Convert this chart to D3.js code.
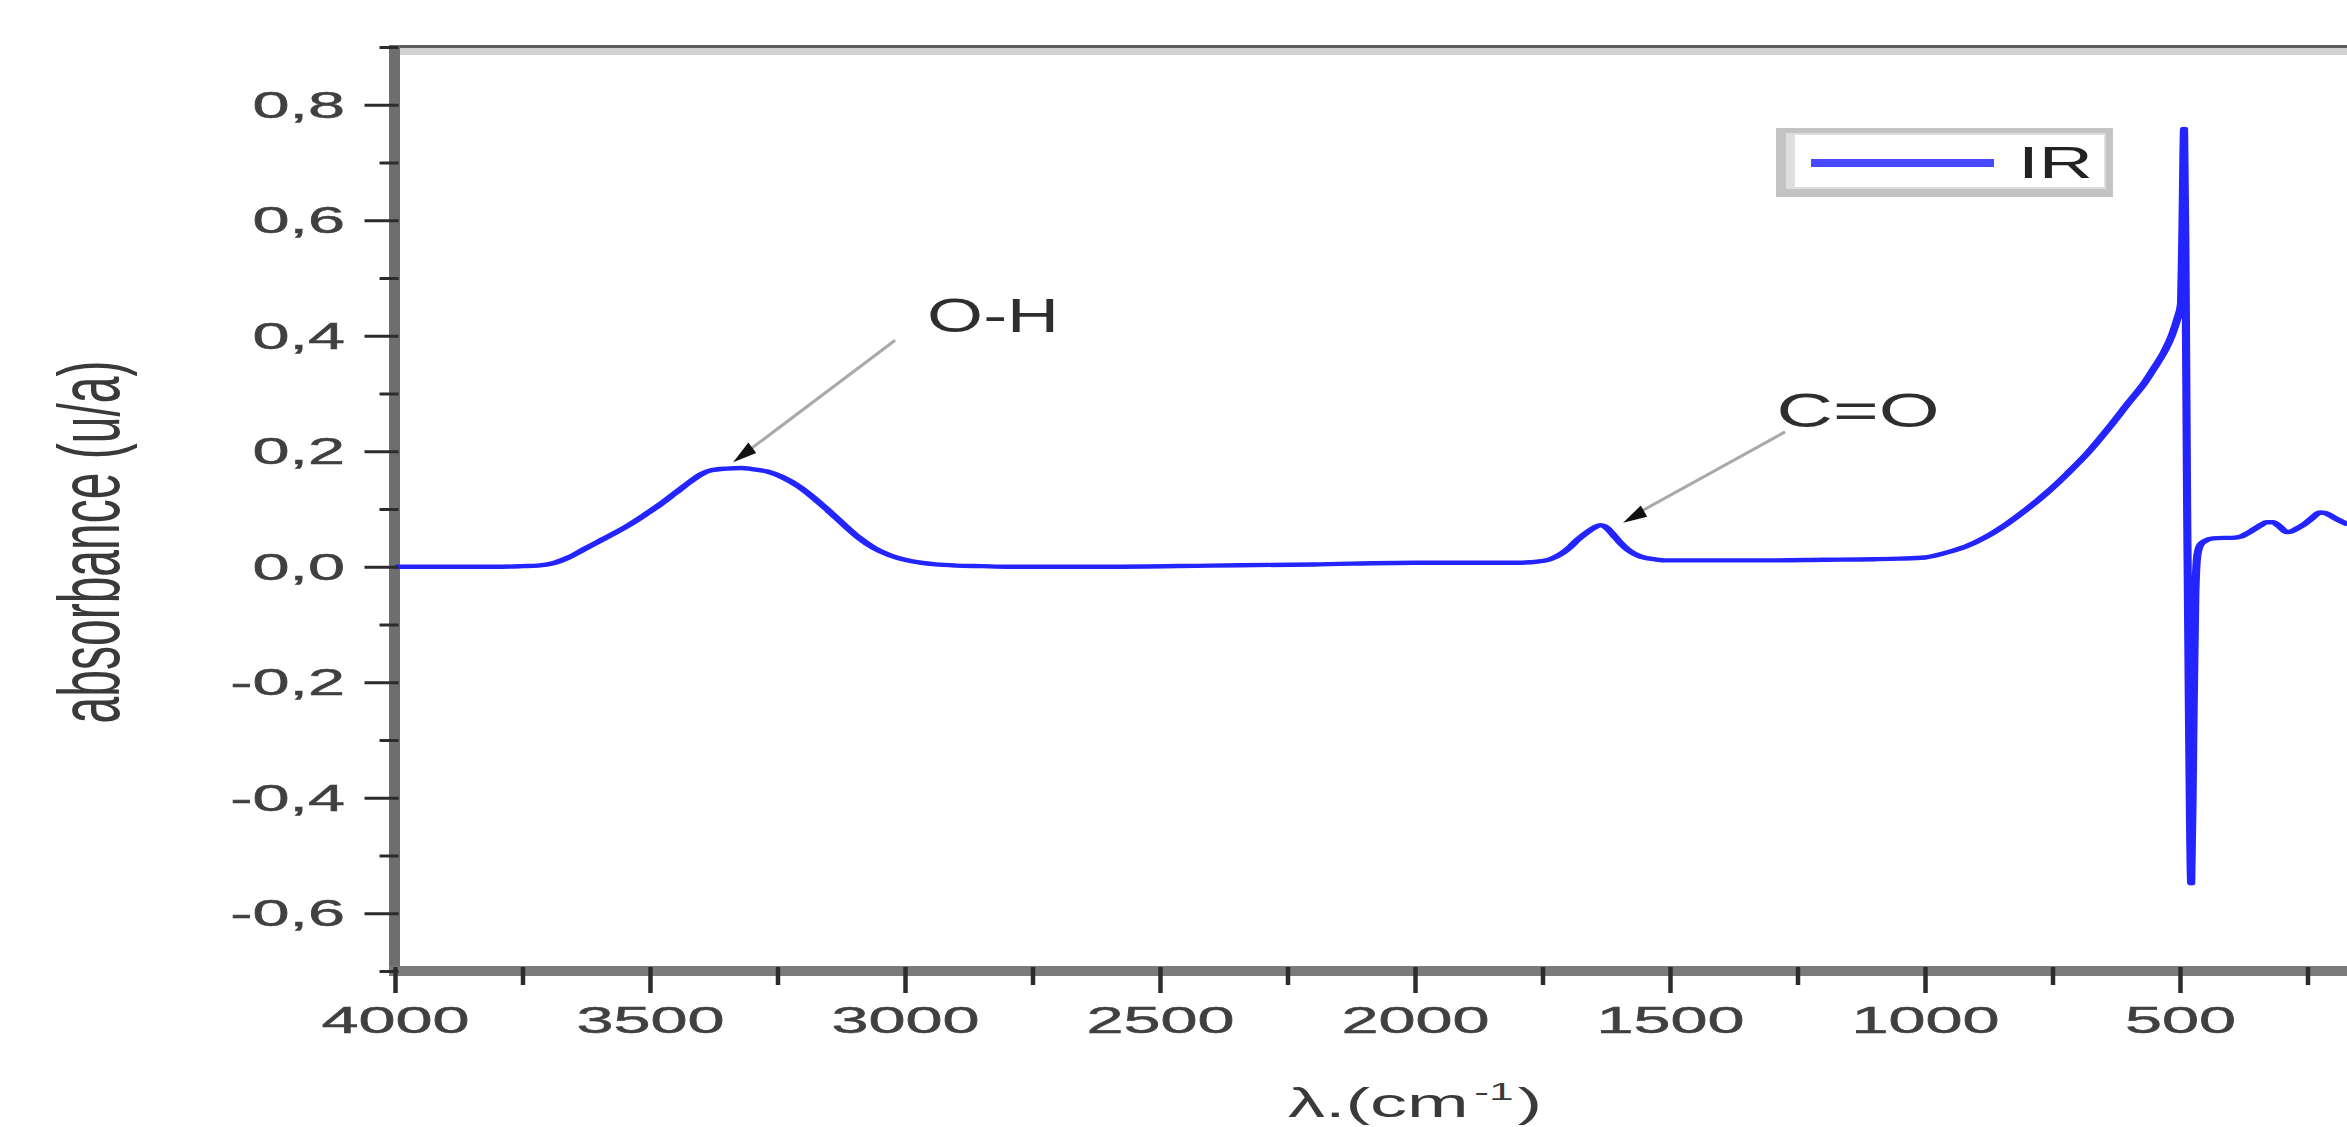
<!DOCTYPE html>
<html><head><meta charset="utf-8">
<script src="https://cdn.jsdelivr.net/npm/d3@7"></script>
<style>html,body{margin:0;padding:0;background:#fff;overflow:hidden}text{font-family:"Liberation Sans",Arial,sans-serif}</style>
</head><body><svg id="chart" width="2347" height="1127"></svg>
<script>
// ---- data ----
const wavenumbers = [4000,3900,3800,3750,3720,3690,3660,3630,3600,3570,3540,3510,3480,3450,3420,3400,3380,3350,3320,3300,3270,3240,3210,3180,3150,3120,3090,3060,3030,3000,2970,2940,2900,2850,2800,2600,2400,2200,2000,1900,1800,1760,1735,1712,1695,1682,1665,1650,1637,1628,1618,1608,1598,1582,1559,1530,1506,1400,1300,1200,1100,1050,1000,960,920,880,840,800,760,720,680,640,600,570,550,530,515,505,498,495,492,489,486,482,478,474,470,466,460,450,435,415,400,382,370,360,349,340,330,318,305,295,290,282,275,267,259,250,240,225,215,210,200,190,180,170];
const absorbance = [0.000,0.000,0.000,0.001,0.002,0.006,0.016,0.030,0.044,0.058,0.073,0.090,0.108,0.128,0.148,0.160,0.167,0.170,0.171,0.169,0.165,0.155,0.140,0.120,0.097,0.073,0.050,0.032,0.020,0.012,0.007,0.004,0.002,0.001,0.000,0.000,0.002,0.004,0.007,0.007,0.007,0.009,0.013,0.023,0.035,0.046,0.058,0.067,0.072,0.070,0.062,0.052,0.042,0.029,0.018,0.013,0.011,0.011,0.011,0.012,0.013,0.014,0.016,0.024,0.035,0.052,0.074,0.100,0.129,0.162,0.198,0.240,0.285,0.318,0.345,0.374,0.403,0.430,0.455,0.600,0.758,0.500,0.100,-0.300,-0.548,-0.300,-0.050,0.020,0.038,0.045,0.049,0.050,0.050,0.052,0.057,0.062,0.068,0.073,0.077,0.077,0.070,0.062,0.060,0.061,0.064,0.068,0.072,0.078,0.085,0.094,0.093,0.091,0.086,0.081,0.077,0.073];
const seriesName = "IR";
const xMajorTicks = [4000,3500,3000,2500,2000,1500,1000,500];
const xMinorTicks = [3750,3250,2750,2250,1750,1250,750,250];
const yMajorTicks = [-0.6,-0.4,-0.2,0.0,0.2,0.4,0.6,0.8];
const yMinorTicks = [-0.7,-0.5,-0.3,-0.1,0.1,0.3,0.5,0.7,0.9];
const xTitle = ["λ.(cm", "-1", ")"];
const yTitle = "absorbance (u/a)";
const annotationLabels = ["O-H", "C=O"];
const annotationTargets = [[3337, 0.181], [1592, 0.076]];

// ---- drawing ----
const W = 2347, H = 1127;
const K = 1.85; // horizontal stretch of the original picture
const svg = d3.select("#chart");
svg.append("rect").attr("width", W).attr("height", H).attr("fill", "#fff");

const x = d3.scaleLinear().domain([4000, 0]).range([395, 2435]);
const y = d3.scaleLinear().domain([-0.7, 0.9]).range([971, 47]);
const fmt = v => d3.format(".1f")(v).replace(".", ",").replace("\u2212", "-");

// frame
svg.append("rect").attr("x", 399).attr("y", 48).attr("width", W).attr("height", 7).attr("fill", "#d3d3d3");
svg.append("line").attr("x1", 389).attr("x2", W).attr("y1", 46.5).attr("y2", 46.5)
  .attr("stroke", "#5e5e5e").attr("stroke-width", 3);
svg.append("line").attr("x1", 394.5).attr("x2", 394.5).attr("y1", 45).attr("y2", 976)
  .attr("stroke", "#6e6e6e").attr("stroke-width", 11);
svg.append("line").attr("x1", 389).attr("x2", W).attr("y1", 971).attr("y2", 971)
  .attr("stroke", "#7b7b7b").attr("stroke-width", 10);

// data line (drawn in a horizontally stretched group)
const data = wavenumbers.map((w, i) => ({ w, a: absorbance[i] }));
const line = d3.line().x(d => x(d.w) / K).y(d => y(d.a)).curve(d3.curveMonotoneX);
svg.append("g").attr("transform", `scale(${K},1)`)
  .append("path").datum(data).attr("d", line)
  .attr("fill", "none").attr("stroke", "#2424ff").attr("stroke-width", 4.4)
  .attr("stroke-linejoin", "round");

// y axis
const gyMin = svg.append("g").attr("transform", "translate(394.5,0)")
  .call(d3.axisLeft(y).tickValues(yMinorTicks).tickSize(15).tickFormat(""));
const gyMaj = svg.append("g").attr("transform", "translate(394.5,0)")
  .call(d3.axisLeft(y).tickValues(yMajorTicks).tickSize(30).tickFormat(fmt));
[gyMin, gyMaj].forEach(g => {
  g.select(".domain").remove();
  g.selectAll(".tick line").attr("x1", 4).attr("stroke", "#2c2c2c").attr("stroke-width", 3);
});
gyMaj.selectAll(".tick text")
  .attr("x", -(394.5 - 345) / K).attr("dy", "0.35em")
  .attr("transform", `scale(${K},1)`)
  .attr("font-size", 36).attr("fill", "#404040").attr("stroke", "#404040").attr("stroke-width", 0.5)
  .attr("text-anchor", "end")
  .attr("font-family", "Liberation Sans, Arial, sans-serif");

// x axis
const gxMin = svg.append("g").attr("transform", "translate(0,971)")
  .call(d3.axisBottom(x).tickValues(xMinorTicks).tickSize(14).tickFormat(""));
const gxMaj = svg.append("g").attr("transform", "translate(0,971)")
  .call(d3.axisBottom(x).tickValues(xMajorTicks).tickSize(22).tickFormat(d3.format("d")));
[gxMin, gxMaj].forEach(g => {
  g.select(".domain").remove();
  g.selectAll(".tick line").attr("y1", -4).attr("stroke", "#2c2c2c").attr("stroke-width", 4.5);
});
gxMaj.selectAll(".tick text")
  .attr("y", 49).attr("dy", "0.35em")
  .attr("transform", `scale(${K},1)`)
  .attr("font-size", 36).attr("fill", "#404040").attr("stroke", "#404040").attr("stroke-width", 0.5)
  .attr("font-family", "Liberation Sans, Arial, sans-serif");

// axis titles
const xt = svg.append("text")
  .attr("transform", `translate(1415,1117) scale(${K},1)`)
  .attr("text-anchor", "middle").attr("font-size", 40).attr("fill", "#3a3a3a");
xt.append("tspan").text(xTitle[0]);
xt.append("tspan").attr("dx", 3).attr("dy", -17).attr("font-size", 24).text(xTitle[1]);
xt.append("tspan").attr("dx", 2).attr("dy", 17).attr("font-size", 40).text(xTitle[2]);

svg.append("text")
  .attr("transform", `translate(89,542) scale(1.8,1) rotate(-90)`)
  .attr("text-anchor", "middle").attr("dominant-baseline", "central")
  .attr("font-size", 48).attr("fill", "#3a3a3a").text(yTitle);

// annotations
const annOffsets = [
  { sx: 162, sy: -122, tx: 260, ty: -130, w: 132 },
  { sx: 162, sy: -91, tx: 235, ty: -96, w: 163 }
];
annotationLabels.forEach((lab, i) => {
  const px = x(annotationTargets[i][0]), py = y(annotationTargets[i][1]);
  const o = annOffsets[i];
  const x1 = px + o.sx, y1 = py + o.sy;
  svg.append("line").attr("x1", x1).attr("y1", y1).attr("x2", px + 8).attr("y2", py - 6)
    .attr("stroke", "#a9a9a9").attr("stroke-width", 3);
  const ang = Math.atan2(py - y1, px - x1);
  const L = 24, hw = 6.5;
  const bx = px - L * Math.cos(ang), by = py - L * Math.sin(ang);
  const nx = -Math.sin(ang) * hw, ny = Math.cos(ang) * hw;
  svg.append("polygon")
    .attr("points", `${px},${py} ${bx + nx},${by + ny} ${bx - nx},${by - ny}`)
    .attr("fill", "#111");
  svg.append("text").attr("x", px + o.tx).attr("y", py + o.ty)
    .attr("text-anchor", "middle").attr("font-size", 48).attr("fill", "#2e2e2e")
    .attr("textLength", o.w).attr("lengthAdjust", "spacingAndGlyphs").text(lab);
});

// legend
svg.append("rect").attr("x", 1776).attr("y", 128).attr("width", 337).attr("height", 69).attr("fill", "#c4c4c4");
svg.append("rect").attr("x", 1786).attr("y", 133).attr("width", 320).attr("height", 56).attr("fill", "#dedede");
svg.append("rect").attr("x", 1795).attr("y", 135).attr("width", 309).attr("height", 52).attr("fill", "#fff");
svg.append("line").attr("x1", 1811).attr("x2", 1994).attr("y1", 163).attr("y2", 163)
  .attr("stroke", "#4848ff").attr("stroke-width", 8);
svg.append("text").attr("x", 2018).attr("y", 178).attr("font-size", 44).attr("fill", "#222")
  .attr("textLength", 75).attr("lengthAdjust", "spacingAndGlyphs").text(seriesName);
</script></body></html>
